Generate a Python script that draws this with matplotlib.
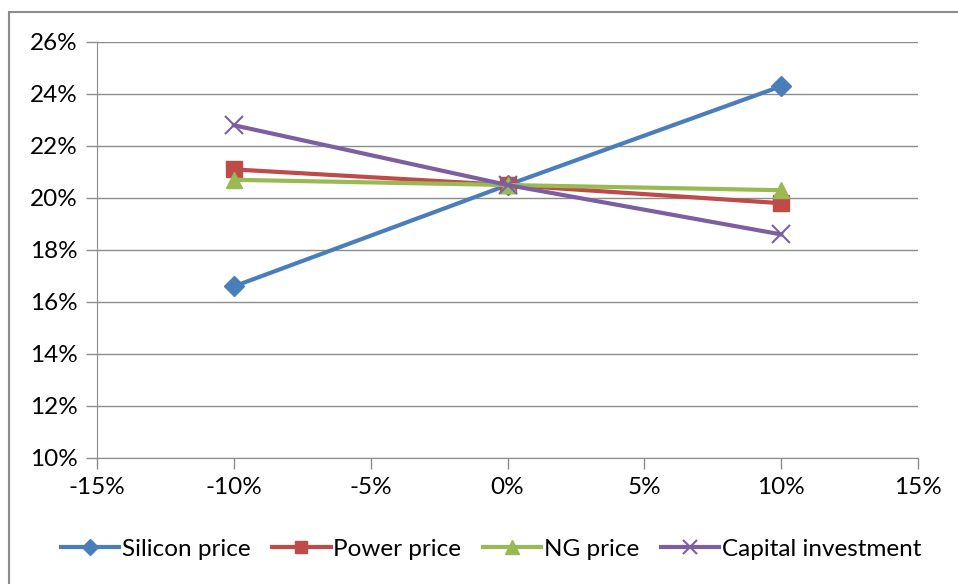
import numpy as np
import matplotlib.pyplot as plt
from matplotlib.patches import Rectangle

plt.rcParams['font.family'] = ['Lato', 'DejaVu Sans']

change = [-10, 0, 10]
silicon = [16.6, 20.5, 24.3]
power = [21.1, 20.5, 19.8]
ng = [20.7, 20.5, 20.3]
capital = [22.8, 20.5, 18.6]
labels = ["Silicon price", "Power price", "NG price", "Capital investment"]

fig = plt.figure(figsize=(9.58, 5.84), dpi=100)
ax = fig.add_axes([97/958, 1-458/584, (918-97)/958, (458-42)/584])

# outer chart frame (only left and top edges fall inside the image)
fig.patches.append(Rectangle((9/958, -0.1), 1.2, 1.1-12/584, transform=fig.transFigure,
                             fill=False, edgecolor='#8c8c8c', linewidth=1.5, clip_on=False))

ax.plot(change, silicon, color='#4a7ebb', lw=3, marker='D', ms=10, label=labels[0])
ax.plot(change, power, color='#be4b48', lw=3, marker='s', ms=11, label=labels[1])
ax.plot(change, ng, color='#98b954', lw=3, marker='^', ms=12, label=labels[2])
ax.plot(change, capital, color='#7d5fa0', lw=3, marker='x', ms=13, mew=1.5, label=labels[3])

ax.set_xlim(-15, 15)
ax.set_ylim(10, 26)
ax.set_xticks(np.arange(-15, 16, 5))
ax.set_yticks(np.arange(10, 27, 2))
ax.set_xticklabels([f"{v}%" for v in range(-15, 16, 5)])
ax.set_yticklabels([f"{v}%" for v in range(10, 27, 2)])
ax.tick_params(labelsize=17.5, color='#8c8c8c', length=8, width=1, pad=6)
ax.yaxis.grid(True, color='#8c8c8c', lw=1)
ax.set_axisbelow(True)
for s in ['top', 'right']:
    ax.spines[s].set_visible(False)
for s in ['left', 'bottom']:
    ax.spines[s].set_color('#8c8c8c')

fig.legend(loc='center', bbox_to_anchor=(491/958, 1-549/584), ncol=4, frameon=False,
           fontsize=17.5, handlelength=2.4, handletextpad=0.1, columnspacing=0.9,
           markerscale=0.8)

fig.savefig("out.png", dpi=100)
